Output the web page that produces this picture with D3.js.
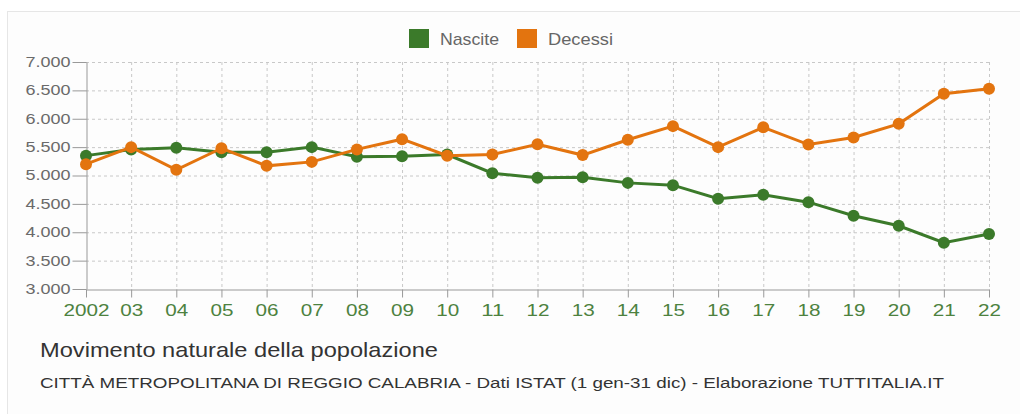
<!DOCTYPE html>
<html>
<head>
<meta charset="utf-8">
<script src="https://cdn.jsdelivr.net/npm/d3@7"></script>
<style>
  body { margin: 0; background: #fff; font-family: "Liberation Sans", Arial, sans-serif; }
  svg { display: block; }
</style>
</head>
<body>
<svg id="chart" width="1020" height="414"></svg>
<script>
var years = ["2002","03","04","05","06","07","08","09","10","11","12","13","14","15","16","17","18","19","20","21","22"];
var nascite = [5350,5460,5490,5410,5410,5500,5330,5340,5370,5040,4960,4970,4870,4830,4590,4660,4530,4290,4115,3815,3970];
var decessi = [5200,5500,5100,5480,5170,5240,5460,5640,5350,5370,5550,5360,5630,5870,5500,5850,5545,5670,5910,6440,6530];
var yTicks = [3000,3500,4000,4500,5000,5500,6000,6500,7000];
var seriesNames = ["Nascite","Decessi"];
var colors = ["#3b7a2a","#e3740f"];

var svg = d3.select("#chart");

// panel
svg.append("rect").attr("x", 7.5).attr("y", 11.5).attr("width", 1030).attr("height", 420)
  .attr("fill", "#fdfdfd").attr("stroke", "#e6e6e6");

var x = d3.scalePoint().domain(years).range([86, 989]);
var y = d3.scaleLinear().domain([3000, 7000]).range([289, 62]);

var fmt = function (d) { return d3.format(",")(d).replace(/,/g, "."); };

// grid
svg.append("g").selectAll("line").data(yTicks.slice(1)).enter().append("line")
  .attr("x1", 86).attr("x2", 989)
  .attr("y1", function (d) { return y(d) + 0.5; }).attr("y2", function (d) { return y(d) + 0.5; })
  .attr("stroke", "#c8c8c8").attr("stroke-dasharray", "3,3");
svg.append("g").selectAll("line").data(years.slice(1)).enter().append("line")
  .attr("x1", function (d) { return x(d) + 0.5; }).attr("x2", function (d) { return x(d) + 0.5; })
  .attr("y1", 62).attr("y2", 289)
  .attr("stroke", "#c8c8c8").attr("stroke-dasharray", "3,3");

// y axis
var yAxis = svg.append("g").attr("transform", "translate(86.5,0)")
  .call(d3.axisLeft(y).tickValues(yTicks).tickFormat(fmt).tickSize(14).tickSizeOuter(0));
yAxis.select(".domain").attr("stroke", "#999");
yAxis.selectAll(".tick line").attr("stroke", "#999");
yAxis.selectAll("text").attr("fill", "#6a6a6a").attr("font-size", 14)
  .attr("font-family", "Liberation Sans, Arial, sans-serif").attr("x", -16)
  .attr("textLength", 45).attr("lengthAdjust", "spacingAndGlyphs");

// x axis
var xAxis = svg.append("g").attr("transform", "translate(0,289.5)")
  .call(d3.axisBottom(x).tickSize(8).tickSizeOuter(0));
xAxis.select(".domain").attr("stroke", "#999");
xAxis.selectAll(".tick line").attr("stroke", "#999");
xAxis.selectAll("text").attr("fill", "#4d823f").attr("font-size", 17)
  .attr("font-family", "Liberation Sans, Arial, sans-serif").attr("y", 14)
  .attr("textLength", function (d) { return d.length * 11.5; }).attr("lengthAdjust", "spacingAndGlyphs");

// lines and points
var data = [nascite, decessi];
var line = d3.line().x(function (d, i) { return x(years[i]); }).y(function (d) { return y(d); });
data.forEach(function (vals, k) {
  svg.append("path").datum(vals).attr("d", line)
    .attr("fill", "none").attr("stroke", colors[k]).attr("stroke-width", 3);
  svg.append("g").selectAll("circle").data(vals).enter().append("circle")
    .attr("cx", function (d, i) { return x(years[i]); })
    .attr("cy", function (d) { return y(d); })
    .attr("r", 6).attr("fill", colors[k]);
});

// legend
var legX = [409, 517];
var legW = [59, 65];
seriesNames.forEach(function (name, k) {
  svg.append("rect").attr("x", legX[k]).attr("y", 29).attr("width", 20).attr("height", 19).attr("fill", colors[k]);
  svg.append("text").attr("x", legX[k] + 31).attr("y", 45).text(name)
    .attr("fill", "#666").attr("font-size", 17)
    .attr("textLength", legW[k]).attr("lengthAdjust", "spacingAndGlyphs");
});

// titles
svg.append("text").attr("x", 40).attr("y", 357).text("Movimento naturale della popolazione")
  .attr("fill", "#333").attr("font-size", 21)
  .attr("textLength", 398).attr("lengthAdjust", "spacingAndGlyphs");
svg.append("text").attr("x", 40).attr("y", 388)
  .text("CITTÀ METROPOLITANA DI REGGIO CALABRIA - Dati ISTAT (1 gen-31 dic) - Elaborazione TUTTITALIA.IT")
  .attr("fill", "#333").attr("font-size", 14)
  .attr("textLength", 904).attr("lengthAdjust", "spacingAndGlyphs");
</script>
</body>
</html>
